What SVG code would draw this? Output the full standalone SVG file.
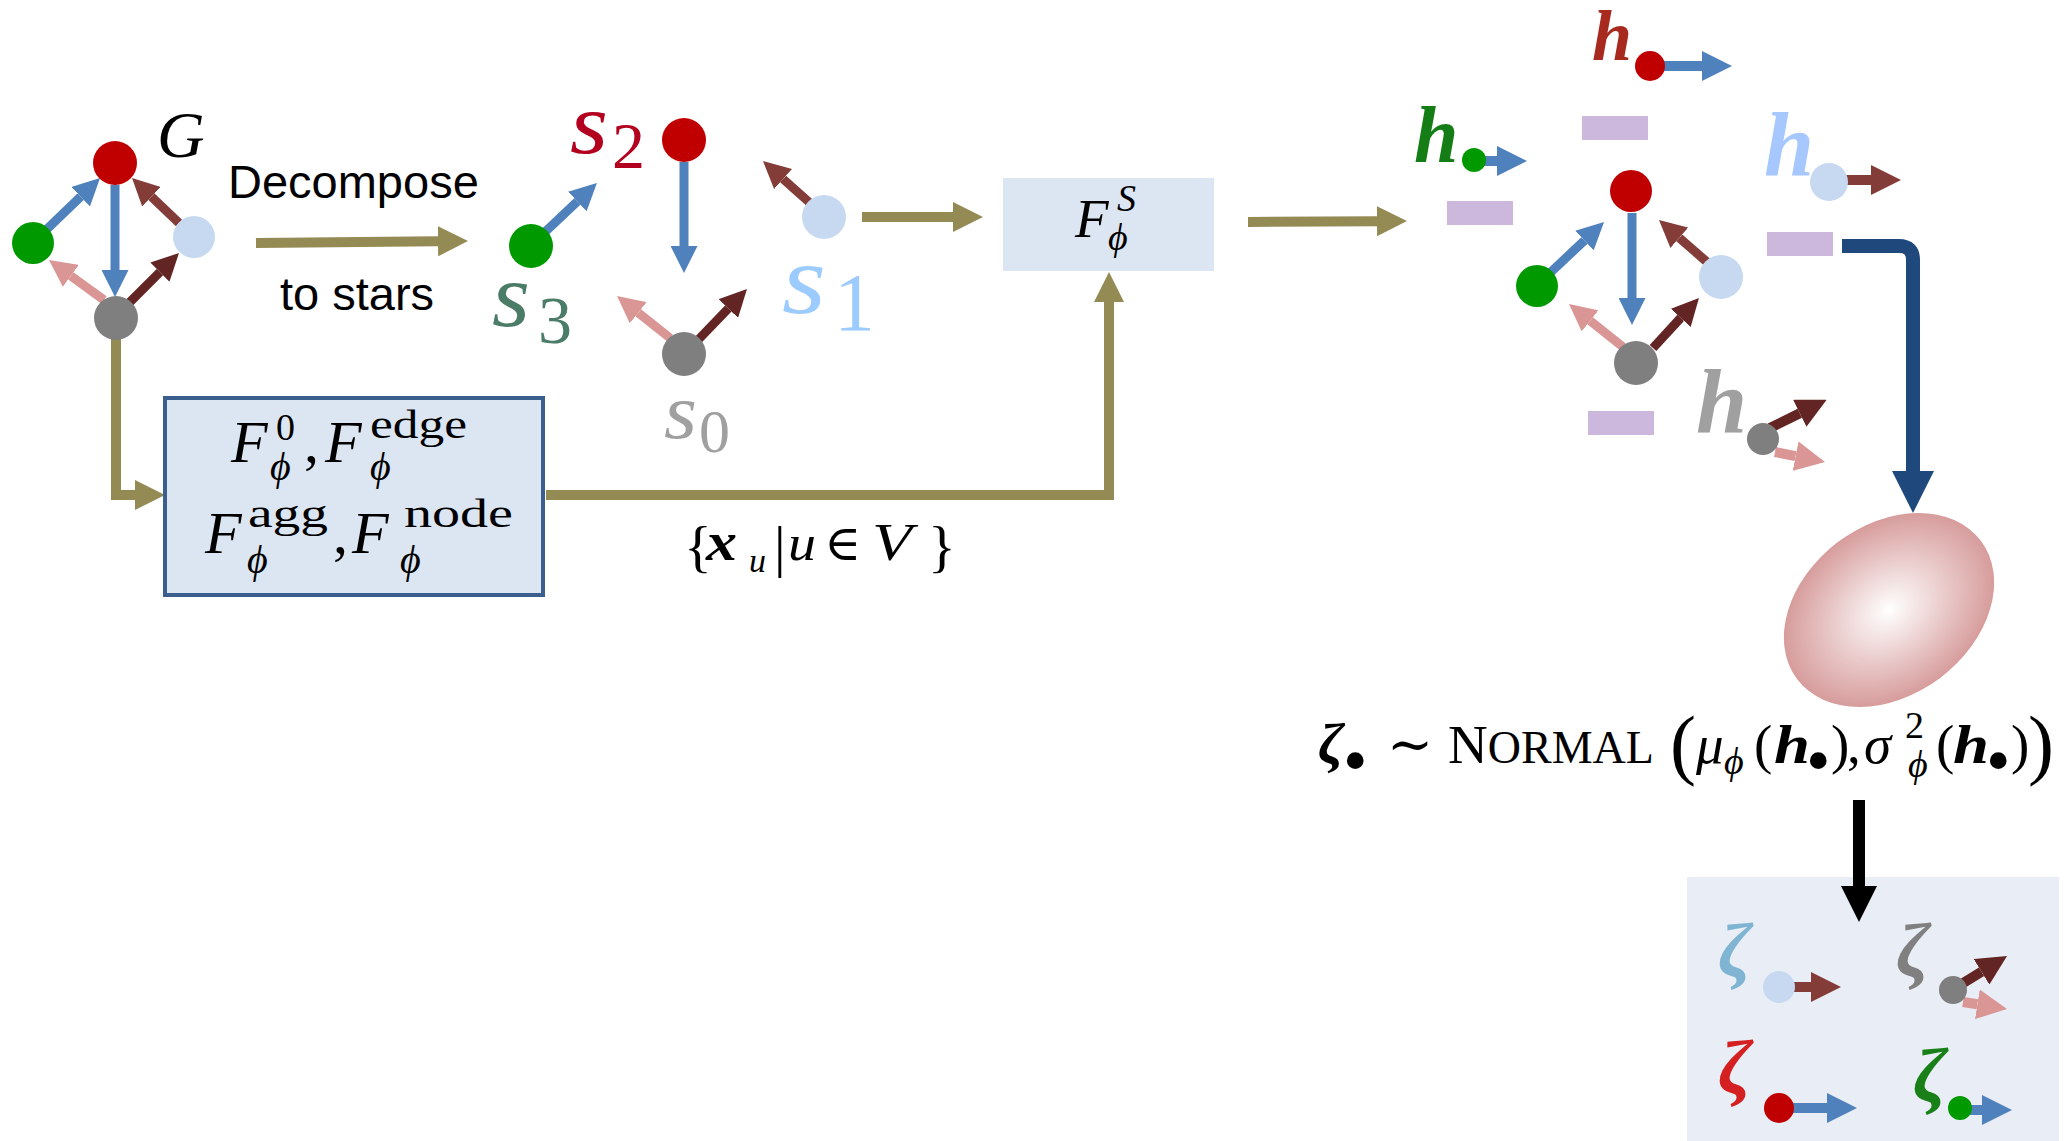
<svg xmlns="http://www.w3.org/2000/svg" width="2072" height="1141" viewBox="0 0 2072 1141">
<style>
.m{font-family:"Liberation Serif","DejaVu Serif",serif;fill:#000}
.i{font-style:italic}
.b{font-weight:bold;font-style:italic}
.sans{font-family:"Liberation Sans",Arial,sans-serif;fill:#000}
.blue{stroke:#4f81bd;fill:none;marker-end:url(#mBlue)}
.dred{stroke:#843c39;fill:none;marker-end:url(#mDred)}
.brown{stroke:#632523;fill:none;marker-end:url(#mBrown)}
.pink{stroke:#d99694;fill:none;marker-end:url(#mPink)}
.olive{stroke:#948a54;fill:none;stroke-width:10;marker-end:url(#mOlive)}
.w9{stroke-width:9}
.w10{stroke-width:10}
.nR{fill:#c00000}.nG{fill:#009900}.nL{fill:#c6d9f0}.nK{fill:#7f7f7f}
.pu{fill:#ccb8dc}
</style>
<defs>
<marker id="mBlue" markerUnits="strokeWidth" viewBox="0 -1.5 3 3" refX="0" refY="0" markerWidth="3" markerHeight="3" orient="auto"><path d="M0,-1.5L3,0L0,1.5z" fill="#4f81bd"/></marker>
<marker id="mDred" markerUnits="strokeWidth" viewBox="0 -1.5 3 3" refX="0" refY="0" markerWidth="3" markerHeight="3" orient="auto"><path d="M0,-1.5L3,0L0,1.5z" fill="#843c39"/></marker>
<marker id="mBrown" markerUnits="strokeWidth" viewBox="0 -1.5 3 3" refX="0" refY="0" markerWidth="3" markerHeight="3" orient="auto"><path d="M0,-1.5L3,0L0,1.5z" fill="#632523"/></marker>
<marker id="mPink" markerUnits="strokeWidth" viewBox="0 -1.5 3 3" refX="0" refY="0" markerWidth="3" markerHeight="3" orient="auto"><path d="M0,-1.5L3,0L0,1.5z" fill="#d99694"/></marker>
<marker id="mOlive" markerUnits="strokeWidth" viewBox="0 -1.5 3 3" refX="0" refY="0" markerWidth="3" markerHeight="3" orient="auto"><path d="M0,-1.5L3,0L0,1.5z" fill="#948a54"/></marker>
<marker id="mNavy" markerUnits="strokeWidth" viewBox="0 -1.5 3 3" refX="0" refY="0" markerWidth="3" markerHeight="3" orient="auto"><path d="M0,-1.5L3,0L0,1.5z" fill="#1f497d"/></marker>
<marker id="mBlack" markerUnits="strokeWidth" viewBox="0 -1.5 3 3" refX="0" refY="0" markerWidth="3" markerHeight="3" orient="auto"><path d="M0,-1.5L3,0L0,1.5z" fill="#000"/></marker>
<radialGradient id="egg" cx="0.5" cy="0.5" r="0.5">
<stop offset="0" stop-color="#ffffff"/>
<stop offset="1" stop-color="#d79c9c"/>
</radialGradient>
</defs>
<rect width="2072" height="1141" fill="#fff"/>

<g id="sample-panel"><rect x="1687" y="877" width="372" height="264" fill="#e9eef6"/></g>

<g id="connectors">
<path class="olive" d="M256,243 L438,241.3"/>
<path class="olive" d="M862,217 L953,217"/>
<path class="olive" d="M1248,222 L1377,221.2"/>
<path class="olive" d="M116,330 L116,495 L135,495" stroke-linejoin="miter"/>
<path class="olive" d="M546,495 L1109,495 L1109,302" stroke-linejoin="miter"/>
<path d="M1842,246 L1899,246 Q1913,246 1913,260 L1913,471" fill="none" stroke="#1f497d" stroke-width="14" marker-end="url(#mNavy)"/>
<path d="M1859,800 L1859,886" fill="none" stroke="#000" stroke-width="12" marker-end="url(#mBlack)"/>
<path class="blue w9" d="M46,230 L80.6,196.7"/>
<path class="blue w9" d="M115,185 L115,270"/>
<path class="dred w9" d="M179,223 L151.5,196.7"/>
<path class="pink w9" d="M104,300 L70.8,275.9"/>
<path class="brown w9" d="M129,303 L159.9,272.1"/>
<path class="blue w9" d="M545,232 L577.3,201.5"/>
<path class="blue w9" d="M684,162 L684,246"/>
<path class="dred w9" d="M810,203 L783.1,179"/>
<path class="pink w9" d="M670,338 L638.2,312.8"/>
<path class="brown w9" d="M698,340 L728.3,308.5"/>
<path class="blue w9" d="M1551,272 L1584.4,240.5"/>
<path class="blue w9" d="M1632,213 L1632,298"/>
<path class="dred w9" d="M1707,262 L1679.3,237.8"/>
<path class="pink w9" d="M1623,347 L1590.1,320.8"/>
<path class="brown w9" d="M1653,348 L1680.7,317.9"/>
<path class="blue w10" d="M1662,66 L1702,66"/>
<path class="blue w10" d="M1482,161 L1497,161"/>
<path class="dred w10" d="M1845,180 L1871,180"/>
<path class="brown w10" d="M1770,428 L1799.8,413.2"/>
<path class="pink w10" d="M1775,452 L1795.6,456.1"/>
<path class="dred w10" d="M1792,987 L1811,987"/>
<path class="brown w10" d="M1960,985 L1981.5,971.8"/>
<path class="pink w10" d="M1963,1002 L1977.4,1004.3"/>
<path class="blue w10" d="M1790,1108 L1827,1108"/>
<path class="blue w10" d="M1968,1110 L1982,1110"/>
</g>

<g id="graph-G">
<circle class="nR" cx="115" cy="163" r="22"/>
<circle class="nG" cx="33" cy="243" r="21"/>
<circle class="nL" cx="194" cy="237" r="21"/>
<circle class="nK" cx="116" cy="318" r="22"/>
<text class="m i" x="157" y="157" font-size="66">G</text>
</g>

<g id="decompose-label">
<text class="sans" x="228" y="198" font-size="47">Decompose</text>
<text class="sans" x="280" y="310" font-size="47">to stars</text>
</g>

<g id="star-s2">
<circle class="nR" cx="684" cy="140" r="22"/>
<text class="m i" x="570" y="153" font-size="86" textLength="38" lengthAdjust="spacingAndGlyphs" style="fill:#b3001e">s</text>
<text class="m" x="612" y="168" font-size="66" style="fill:#b3001e">2</text>
</g>
<g id="star-s3">
<circle class="nG" cx="531" cy="246" r="22"/>
<text class="m i" x="492" y="326" font-size="90" textLength="38" lengthAdjust="spacingAndGlyphs" style="fill:#4a7c68">s</text>
<text class="m" x="538" y="343" font-size="68" style="fill:#4a7c68">3</text>
</g>
<g id="star-s1">
<circle class="nL" cx="824" cy="217" r="22"/>
<text class="m i" x="782" y="313" font-size="100" textLength="44" lengthAdjust="spacingAndGlyphs" style="fill:#9ccbff">s</text>
<text class="m" x="834" y="330" font-size="82" style="fill:#9ccbff">1</text>
</g>
<g id="star-s0">
<circle class="nK" cx="684" cy="354" r="22"/>
<text class="m i" x="664" y="438" font-size="78" textLength="33" lengthAdjust="spacingAndGlyphs" style="fill:#a0a0a0">s</text>
<text class="m" x="699" y="452" font-size="62" style="fill:#a0a0a0">0</text>
</g>

<g id="param-box">
<rect x="165" y="398" width="378" height="197" fill="#dce6f2" stroke="#3a5f8e" stroke-width="4"/>
<text class="m i" x="231" y="462" font-size="60">F</text>
<text class="m" x="276" y="440" font-size="38">0</text>
<text class="m i" x="270" y="480" font-size="40">ϕ</text>
<text class="m" x="304" y="462" font-size="60">,</text>
<text class="m i" x="325" y="462" font-size="60">F</text>
<text class="m" x="370" y="438" font-size="40" textLength="97" lengthAdjust="spacingAndGlyphs">edge</text>
<text class="m i" x="370" y="480" font-size="40">ϕ</text>
<text class="m i" x="205" y="553" font-size="60">F</text>
<text class="m" x="248" y="527" font-size="40" textLength="80" lengthAdjust="spacingAndGlyphs">agg</text>
<text class="m i" x="247" y="573" font-size="40">ϕ</text>
<text class="m" x="333" y="553" font-size="60">,</text>
<text class="m i" x="352" y="553" font-size="60">F</text>
<text class="m" x="404" y="527" font-size="40" textLength="109" lengthAdjust="spacingAndGlyphs">node</text>
<text class="m i" x="400" y="573" font-size="40">ϕ</text>
</g>

<g id="set-label">
<text class="m" x="684" y="566" font-size="58">{</text>
<text class="m b" x="706" y="560" font-size="54" textLength="31" lengthAdjust="spacingAndGlyphs">x</text>
<text class="m i" x="749" y="572" font-size="34">u</text>
<text class="m" x="774" y="566" font-size="58">|</text>
<text class="m i" x="788" y="560" font-size="50" textLength="28" lengthAdjust="spacingAndGlyphs">u</text>
<text class="m" x="824" y="560" font-size="50">∈</text>
<text class="m i" x="872" y="560" font-size="52" textLength="40" lengthAdjust="spacingAndGlyphs">V</text>
<text class="m" x="928" y="566" font-size="58">}</text>
</g>

<g id="star-encoder">
<rect x="1003" y="178" width="211" height="93" fill="#dce6f2"/>
<text class="m i" x="1075" y="237" font-size="55">F</text>
<text class="m i" x="1117" y="211" font-size="38">S</text>
<text class="m i" x="1108" y="250" font-size="38">ϕ</text>
</g>

<g id="h-red">
<text class="m b" x="1592" y="60" font-size="72" style="fill:#a8291e">h</text>
<circle class="nR" cx="1650" cy="66" r="15"/>
<rect class="pu" x="1582" y="116" width="66" height="24"/>
</g>
<g id="h-green">
<text class="m b" x="1414" y="162" font-size="80" style="fill:#157d15">h</text>
<circle class="nG" cx="1474" cy="160" r="12"/>
<rect class="pu" x="1447" y="201" width="66" height="24"/>
</g>
<g id="h-lightblue">
<text class="m b" x="1764" y="175" font-size="90" style="fill:#a6c8ff">h</text>
<circle class="nL" cx="1829" cy="182" r="19"/>
<rect class="pu" x="1767" y="232" width="66" height="24"/>
</g>
<g id="h-gray">
<text class="m b" x="1696" y="432" font-size="92" style="fill:#a0a0a0">h</text>
<circle class="nK" cx="1763" cy="439" r="16"/>
<rect class="pu" x="1588" y="411" width="66" height="24"/>
</g>
<g id="h-graph">
<circle class="nR" cx="1631" cy="191" r="21"/>
<circle class="nG" cx="1537" cy="286" r="21"/>
<circle class="nL" cx="1721" cy="277" r="22"/>
<circle class="nK" cx="1636" cy="363" r="22"/>
</g>

<g id="normal-dist">
<ellipse cx="1889" cy="610" rx="115" ry="85" transform="rotate(-37 1889 610)" fill="url(#egg)"/>
</g>

<g id="formula">
<text class="m b" x="1318" y="763" font-size="58">ζ</text>
<text class="m" x="1343" y="784" font-size="70">•</text>
<text class="m" x="1387" y="763" font-size="55">∼</text>
<text class="m" x="1448" y="763" font-size="55">N<tspan font-size="46">ORMAL</tspan></text>
<text class="m" x="1670" y="770" font-size="78">(</text>
<text class="m i" x="1696" y="763" font-size="55">μ</text>
<text class="m i" x="1724" y="774" font-size="38">ϕ</text>
<text class="m" x="1754" y="763" font-size="55">(</text>
<text class="m b" x="1774" y="763" font-size="55" textLength="36" lengthAdjust="spacingAndGlyphs">h</text>
<text class="m" x="1806" y="784" font-size="70">•</text>
<text class="m" x="1831" y="763" font-size="55">)</text>
<text class="m" x="1847" y="763" font-size="55">,</text>
<text class="m i" x="1864" y="763" font-size="55">σ</text>
<text class="m" x="1905" y="738" font-size="38">2</text>
<text class="m i" x="1908" y="777" font-size="38">ϕ</text>
<text class="m" x="1936" y="763" font-size="55">(</text>
<text class="m b" x="1953" y="763" font-size="55" textLength="36" lengthAdjust="spacingAndGlyphs">h</text>
<text class="m" x="1986" y="784" font-size="70">•</text>
<text class="m" x="2011" y="763" font-size="55">)</text>
<text class="m" x="2028" y="770" font-size="78">)</text>
</g>

<g id="sample-lightblue">
<text class="m b" x="1718" y="976" font-size="76" style="fill:#7fb4d2">ζ</text>
<circle class="nL" cx="1779" cy="987" r="16"/>
</g>
<g id="sample-gray">
<text class="m b" x="1896" y="976" font-size="76" style="fill:#808080">ζ</text>
<circle class="nK" cx="1953" cy="990" r="14"/>
</g>
<g id="sample-red">
<text class="m b" x="1718" y="1093" font-size="76" style="fill:#d42020">ζ</text>
<circle class="nR" cx="1779" cy="1108" r="15"/>
</g>
<g id="sample-green">
<text class="m b" x="1913" y="1101" font-size="76" style="fill:#198019">ζ</text>
<circle class="nG" cx="1960" cy="1108" r="12"/>
</g>
</svg>
